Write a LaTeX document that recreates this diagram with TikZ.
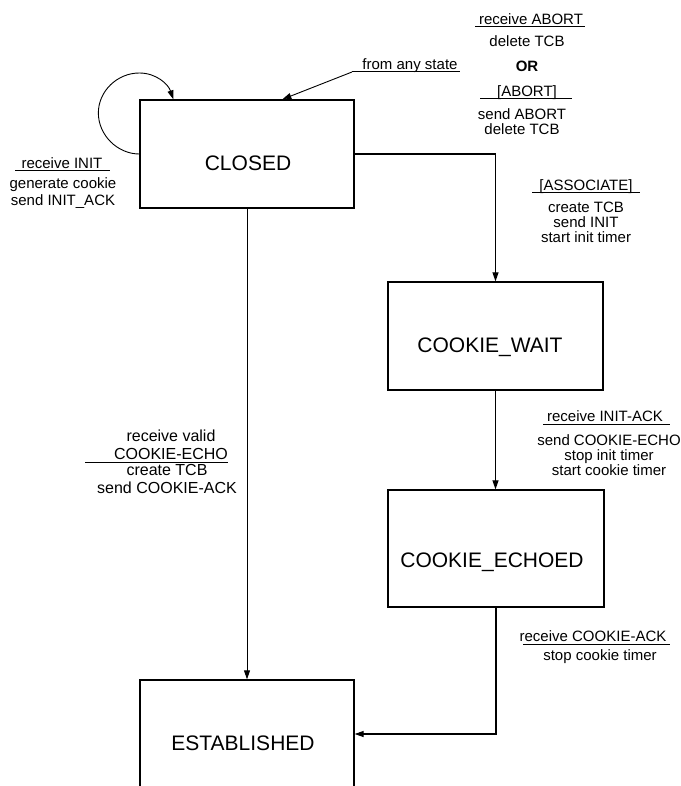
\documentclass[tikz,border=0pt]{standalone}
\usepackage{fontspec}
\setmainfont{Liberation Sans}
\usetikzlibrary{arrows.meta,calc}
\begin{document}
\begin{tikzpicture}[x=1pt,y=-1pt,
  state/.style={draw, line width=1.3pt, inner sep=0pt},
  stext/.style={font=\fontsize{21}{24}\selectfont, inner sep=0pt},
  conn/.style={line width=1.1pt, -{Triangle[length=9pt,width=6pt]}},
  trig/.style={font=\fontsize{15}{16}\selectfont, align=center, inner sep=0pt, text depth=2pt, anchor=south},
  act/.style={font=\fontsize{15}{15}\selectfont, align=center, inner sep=0pt, anchor=north},
  uline/.style={line width=1pt}]
\useasboundingbox (0,0) rectangle (680,786);
\fill[white] (0,0) rectangle (680,786);
\clip (0,0) rectangle (680,786);

% states
\node[state, minimum width=214pt, minimum height=108pt] (closed) at (247,154) {};
\node[stext] (closedtxt) at (248,163) {CLOSED};
\node[state, minimum width=215pt, minimum height=108pt] (cwait) at (495.5,336) {};
\node[stext] (cwaittxt) at (490,347) {COOKIE\_WAIT};
\node[state, minimum width=216pt, minimum height=117pt] (cecho) at (496,548.5) {};
\node[stext] (cechotxt) at (492,562) {COOKIE\_ECHOED};
\node[state, minimum width=214pt, minimum height=108pt] (estab) at (247,734) {};
\node[stext] (estabtxt) at (243,743) {ESTABLISHED};

% transitions
\draw[conn] (closed.east) -| (cwait.north);
\draw[conn] (cwait.south) -- (cwait.south |- cecho.north);
\draw[conn] (cecho.south) |- (estab.east);
\draw[conn, line width=0.9pt] (closed.south) -- (estab.north);
\draw[conn, line width=0.9pt] (closed.west) .. controls +(-22,0) and +(0,22) .. ++(-41,-41)
   .. controls +(0,-22) and +(-22,0) .. ++(41,-40)
   .. controls +(17,0) and +(-5,-15) .. ([xshift=34pt]closed.north west);

% from any state
\node[trig] (fromany) at (410,72) {from any state};
\draw[uline] ([xshift=-58pt]fromany.south) -- ([xshift=50pt]fromany.south);
\draw[conn, line width=0.9pt] ([xshift=-58pt]fromany.south) -- ([xshift=143pt]closed.north west);

% abort labels
\node[trig] (tabort1) at (531,27) {receive ABORT};
\draw[uline] ([xshift=-56pt]tabort1.south) -- ([xshift=54pt]tabort1.south);
\node[act] (aabort1) at (527,35.5) {delete TCB};
\node[font=\fontsize{15}{16}\selectfont\bfseries, inner sep=0pt] (orlbl) at (527,66) {OR};
\node[trig] (tabort2) at (527,99) {[ABORT]};
\draw[uline] ([xshift=-47pt]tabort2.south) -- ([xshift=45pt]tabort2.south);
\node[act] (aabort2) at (522,108.5) {send ABORT\\delete TCB};

% receive INIT
\node[trig] (tinit) at (62,171) {receive INIT};
\draw[uline] ([xshift=-47pt]tinit.south) -- ([xshift=48pt]tinit.south);
\node[act, font=\fontsize{15}{17}\selectfont] (ainit) at (63,177.5) {generate cookie\\send INIT\_ACK};

% associate
\node[trig] (tassoc) at (586,193) {[ASSOCIATE]};
\draw[uline] ([xshift=-54pt]tassoc.south) -- ([xshift=54pt]tassoc.south);
\node[act] (aassoc) at (586,201.5) {create TCB\\send INIT\\start init timer};

% init-ack
\node[trig] (tinitack) at (605,424) {receive INIT-ACK};
\draw[uline] ([xshift=-62pt]tinitack.south) -- ([xshift=65pt]tinitack.south);
\node[act] (ainitack) at (609,434.5) {send COOKIE-ECHO\\stop init timer\\start cookie timer};

% cookie-echo
\node[trig, font=\fontsize{16}{18}\selectfont] (techo) at (171,462) {receive valid\\COOKIE-ECHO};
\draw[uline] ([xshift=-86pt]techo.south) -- ([xshift=57pt]techo.south);
\node[act, font=\fontsize{16}{18}\selectfont] (aecho) at (167,464.5) {create TCB\\send COOKIE-ACK};

% cookie-ack
\node[trig] (tack) at (593,644) {receive COOKIE-ACK};
\draw[uline] ([xshift=-70pt]tack.south) -- ([xshift=77pt]tack.south);
\node[act] (aack) at (600,649.5) {stop cookie timer};
\end{tikzpicture}
\end{document}
